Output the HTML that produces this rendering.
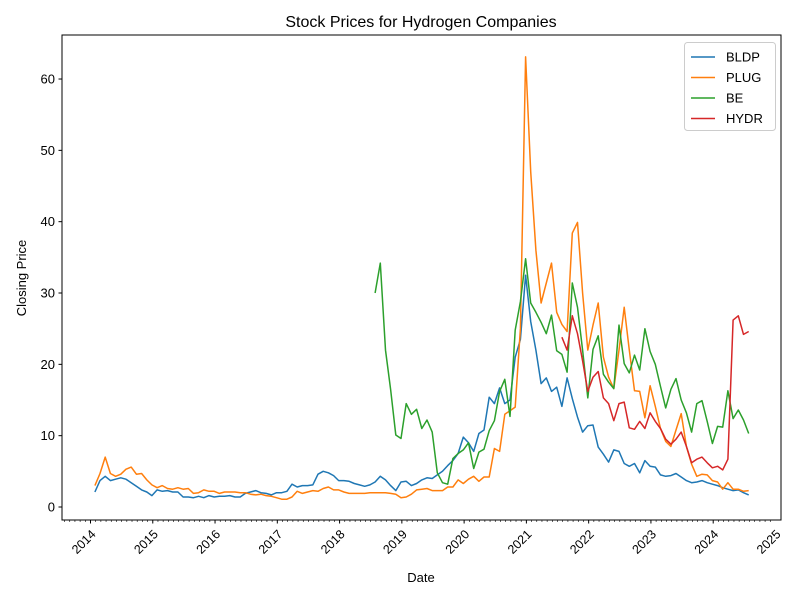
<!DOCTYPE html>
<html><head><meta charset="utf-8"><style>
body{margin:0;background:#fff}
svg text{font-family:"Liberation Sans","DejaVu Sans",sans-serif}
</style></head><body>
<svg id="chart" width="800" height="600" xmlns="http://www.w3.org/2000/svg">
<rect width="800" height="600" fill="#fff"/>
<text x="421" y="27" font-size="16" text-anchor="middle">Stock Prices for Hydrogen Companies</text>
<text x="421" y="582" font-size="13" text-anchor="middle">Date</text>
<text x="26" y="278" font-size="13" text-anchor="middle" transform="rotate(-90 26 278)">Closing Price</text>
<g id="axes"></g>
<g id="series"></g>
<rect x="62" y="35" width="719" height="485" fill="none" stroke="#000" stroke-width="1"/>
<g id="legend"></g>
</svg>
<script>
const yTicks=[0,10,20,30,40,50,60];
const xTickYears=[2014,2015,2016,2017,2018,2019,2020,2021,2022,2023,2024,2025];
const seriesNames=["BLDP","PLUG","BE","HYDR"];
const seriesColors=["#1f77b4","#ff7f0e","#2ca02c","#d62728"];
const bldp=[2.1,3.7,4.3,3.7,3.9,4.1,3.9,3.4,2.9,2.4,2.1,
1.6,2.4,2.2,2.3,2.1,2.1,1.4,1.4,1.3,1.5,1.3,1.6,
1.4,1.5,1.5,1.6,1.4,1.4,1.9,2.1,2.3,2.0,1.9,1.7,
2.0,2.0,2.2,3.2,2.8,3.0,3.0,3.1,4.6,5.0,4.8,4.4,
3.7,3.7,3.6,3.3,3.1,2.9,3.1,3.5,4.3,3.8,3.0,2.3,
3.5,3.6,3.0,3.3,3.8,4.1,4.0,4.5,5.0,5.8,6.5,7.5,
9.8,9.0,7.8,10.3,10.8,15.4,14.5,16.7,14.5,15.0,21,23.5,
32.5,26,22,17.3,18.1,16.2,16.8,14.1,18.1,15.2,12.6,10.5,
11.4,11.5,8.4,7.4,6.3,8.0,7.8,6.1,5.7,6.1,4.8,6.5,
5.7,5.6,4.5,4.3,4.4,4.7,4.2,3.7,3.4,3.5,3.7,3.4,
3.2,3.0,2.7,2.5,2.3,2.4,2.0,1.7];
const plug=[3.0,4.7,7.0,4.7,4.3,4.6,5.3,5.6,4.6,4.7,3.8,
3.1,2.7,3.0,2.6,2.5,2.7,2.5,2.6,1.9,2.0,2.4,2.2,
2.2,1.9,2.1,2.1,2.1,2.0,2.0,1.8,1.7,1.8,1.6,1.5,
1.3,1.1,1.1,1.4,2.2,1.9,2.1,2.3,2.2,2.6,2.8,2.4,
2.4,2.1,1.9,1.9,1.9,1.9,2.0,2.0,2.0,2.0,1.9,1.8,
1.3,1.4,1.8,2.4,2.5,2.6,2.3,2.3,2.3,2.8,2.8,3.8,
3.3,3.9,4.3,3.6,4.2,4.2,8.2,7.8,13.0,13.5,14.0,25.0,
63.1,47,36,28.6,31.4,34.2,27.3,25.6,24.6,38.4,39.9,30,
22,25.5,28.6,21,18.2,16.6,22,28,22,16.3,16.2,12.5,
17,14.1,11,9.2,8.5,10.8,13.1,8.5,6.0,4.3,4.6,4.5,
3.7,3.5,2.5,3.4,2.5,2.5,2.2,2.3];
const beStart=54;
const be=[30,34.2,22,16.5,10.1,9.6,14.5,13,13.7,11,12.2,10.5,4.8,3.4,3.2,6.8,7.5,8,9,5.4,7.7,8.1,10.7,12.1,16.2,17.9,12.7,24.8,28.8,34.8,
28.6,27.3,25.9,24.3,26.9,21.9,21.4,18.9,31.4,28,22,15.3,22.1,24,18.6,17.5,16.6,25.5,20.1,18.8,21.3,19.2,25,21.8,20,16.9,13.9,16.5,18,15,13.2,10.5,14.5,14.9,12,8.9,11.3,11.2,16.3,12.4,13.6,12.2,10.3];
const hydrStart=90;
const hydr=[23.8,22,26.8,24.3,20.5,16.2,18.2,19,15.3,14.5,12.1,14.5,14.7,11.1,10.9,12,11,13.2,12,11,9.5,8.8,9.5,10.5,8.5,6.2,6.7,7.0,6.2,5.5,5.7,5.2,6.7,26.2,26.8,24.2,24.6];

const NS="http://www.w3.org/2000/svg";
function xYear(yr){return 90.5+(yr-2014)*62.27;}
function xIdx(i){return xYear(2014.07+i/12);}
function yVal(v){return 507-v*7.133;}
const axes=document.getElementById('axes');
function mk(tag,attrs,parent){const e=document.createElementNS(NS,tag);for(const k in attrs)e.setAttribute(k,attrs[k]);parent.appendChild(e);return e;}
yTicks.forEach(v=>{
  const y=yVal(v);
  const t=mk('line',{x1:58.5,x2:62,y1:y,y2:y,stroke:'#000'},axes);
  
  
  const l=mk('text',{x:55,y:y+4.5,'font-size':13,'text-anchor':'end'},axes);
  l.textContent=v;
  
  
});
for(let m=0;m<12*12;m++){
  const yr=2013+m/12;const x=xYear(yr);
  if(x<62||x>781)continue;
  const major=m%12===0;
  const t=mk('line',{x1:x,x2:x,y1:520,y2:major?523.5:522,stroke:'#000','stroke-width':major?1:0.6},axes);
  
  
}
xTickYears.forEach(yr=>{
  const x=xYear(yr)+6;
  const l=mk('text',{x:x,y:535,'font-size':12.5,'text-anchor':'end',transform:`rotate(-45 ${x} 535)`},axes);
  l.textContent=yr;
  
  
});
const ser=document.getElementById('series');
const allData=[[bldp,0],[plug,0],[be,beStart],[hydr,hydrStart]];
allData.forEach(([d,s],k)=>{
  const pts=d.map((v,i)=>xIdx(s+i).toFixed(1)+','+yVal(v).toFixed(1)).join(' ');
  const p=mk('polyline',{points:pts,fill:'none',stroke:seriesColors[k],'stroke-width':1.5,'stroke-linejoin':'round'},ser);
  
  
});
const lg=document.getElementById('legend');
const box=mk('rect',{x:684.5,y:42.5,width:91,height:88,rx:3,fill:'#fff','fill-opacity':0.8,stroke:'#ccc'},lg);


seriesNames.forEach((n,k)=>{
  const y=57+k*20.5;
  const ln=mk('line',{x1:691,x2:715,y1:y,y2:y,stroke:seriesColors[k],'stroke-width':1.5},lg);
  
  
  const t=mk('text',{x:726,y:y+4.5,'font-size':13},lg);
  t.textContent=n;
  
  
});
</script>
</body></html>
